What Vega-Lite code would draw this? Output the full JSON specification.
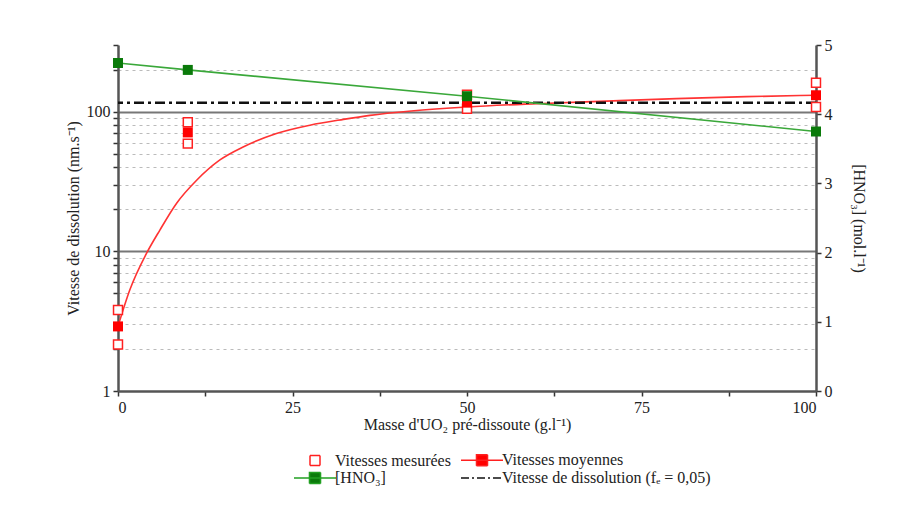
{
  "$schema": "https://vega.github.io/schema/vega-lite/v6.json",
  "autosize": "none",
  "width": 698,
  "height": 346,
  "padding": {"left": 118, "top": 45, "right": 81, "bottom": 122},
  "background": "white",
  "config": {
    "font": "Liberation Serif, Times New Roman, serif",
    "view": {"stroke": null},
    "axis": {
      "labelFont": "Liberation Serif, Times New Roman, serif",
      "titleFont": "Liberation Serif, Times New Roman, serif",
      "labelFontSize": 16,
      "titleFontSize": 16,
      "titleFontWeight": "normal",
      "labelColor": "#222",
      "titleColor": "#222",
      "domainColor": "#555",
      "domainWidth": 2.5,
      "tickColor": "#333",
      "tickWidth": 1.5,
      "tickSize": 5,
      "labelPadding": 3,
      "labelAngle": 0
    },
    "legend": {"labelFont": "Liberation Serif, Times New Roman, serif"}
  },
  "datasets": {
    "mesures": [
      {"x": 0, "v": 3.8, "serie": "Vitesses mesurées"},
      {"x": 0, "v": 2.15, "serie": "Vitesses mesurées"},
      {"x": 10, "v": 84, "serie": "Vitesses mesurées"},
      {"x": 10, "v": 59, "serie": "Vitesses mesurées"},
      {"x": 50, "v": 132, "serie": "Vitesses mesurées"},
      {"x": 50, "v": 105, "serie": "Vitesses mesurées"},
      {"x": 100, "v": 161, "serie": "Vitesses mesurées"},
      {"x": 100, "v": 108, "serie": "Vitesses mesurées"}
    ],
    "moyennes": [
      {"x": 0, "v": 2.9},
      {"x": 10, "v": 71},
      {"x": 50, "v": 116},
      {"x": 100, "v": 131}
    ],
    "courbe": [
      {"x": 0, "v": 2.9},
      {"x": 1.7, "v": 5.3},
      {"x": 4.1, "v": 9.7},
      {"x": 6.0, "v": 14.2},
      {"x": 8.4, "v": 22.1},
      {"x": 11.3, "v": 32.4},
      {"x": 14.6, "v": 45.1},
      {"x": 18.0, "v": 56.1},
      {"x": 22.7, "v": 69.8},
      {"x": 27.5, "v": 80},
      {"x": 32.3, "v": 88},
      {"x": 36.1, "v": 94},
      {"x": 42, "v": 101},
      {"x": 50, "v": 108},
      {"x": 60, "v": 114},
      {"x": 70, "v": 119},
      {"x": 80, "v": 124},
      {"x": 90, "v": 128},
      {"x": 100, "v": 131}
    ],
    "hno3": [
      {"x": 0, "c": 4.74},
      {"x": 10, "c": 4.64},
      {"x": 50, "c": 4.26},
      {"x": 100, "c": 3.75}
    ],
    "ref": [{"v": 116}]
  },
  "layer": [
    {
      "layer": [
        {
          "data": {"name": "courbe"},
          "mark": {"type": "line", "color": "#ff3333", "strokeWidth": 1.6, "interpolate": "monotone"},
          "encoding": {
            "x": {
              "field": "x", "type": "quantitative",
              "scale": {"domain": [0, 100], "nice": false},
              "axis": {
                "title": "Masse d'UO₂ pré-dissoute (g.l⁻¹)",
                "values": [0, 12.5, 25, 37.5, 50, 62.5, 75, 87.5, 100],
                "labelExpr": "datum.value % 25 == 0 ? datum.label : ''",
                "grid": false,
                "titlePadding": 1
              }
            },
            "y": {
              "field": "v", "type": "quantitative",
              "scale": {"type": "log", "domain": [1, 300], "nice": false},
              "axis": {
                "title": "Vitesse de dissolution (nm.s⁻¹)",
                "values": [1, 2, 3, 4, 5, 6, 7, 8, 9, 10, 20, 30, 40, 50, 60, 70, 80, 90, 100, 200, 300],
                "labelExpr": "datum.value == 1 || datum.value == 10 || datum.value == 100 ? datum.label : ''",
                "grid": true,
                "gridColor": {"condition": {"test": "datum.value == 10 || datum.value == 100", "value": "#777"}, "value": "#bbb"},
                "gridDash": {"condition": {"test": "datum.value == 10 || datum.value == 100", "value": []}, "value": [3, 4]},
                "gridWidth": {"condition": {"test": "datum.value == 10 || datum.value == 100", "value": 2}, "value": 1.2},
                "gridOpacity": {"condition": {"test": "datum.value == 300 || datum.value == 1", "value": 0}, "value": 1},
                "labelPadding": 3,
                "titlePadding": 5
              }
            }
          }
        },
        {
          "data": {"name": "ref"},
          "mark": {"type": "rule", "color": "#111", "strokeWidth": 2.5, "strokeDash": [10, 4, 3, 4]},
          "encoding": {"y": {"field": "v", "type": "quantitative"}}
        },
        {
          "data": {"name": "mesures"},
          "mark": {"type": "point", "size": 80, "opacity": 1, "fillOpacity": 1, "strokeOpacity": 1},
          "encoding": {
            "x": {"field": "x", "type": "quantitative"},
            "y": {"field": "v", "type": "quantitative"},
            "stroke": {
              "field": "serie", "type": "nominal",
              "scale": {
                "domain": ["Vitesses mesurées", "Vitesses moyennes", "[HNO₃]", "Vitesse de dissolution (fₑ = 0,05)"],
                "range": ["#ff2020", "#ff2020", "#22a022", "#111111"]
              },
              "legend": {
                "orient": "none",
                "legendX": 189,
                "legendY": 407,
                "columns": 2,
                "direction": "horizontal",
                "title": null,
                "labelFont": "Liberation Serif, Times New Roman, serif",
                "labelFontSize": 16,
                "labelColor": "#222",
                "labelLimit": 0,
                "symbolSize": 100,
                "labelOffset": 12,
                "rowPadding": 0,
                "columnPadding": 6,
                "symbolOpacity": 1
              }
            },
            "fill": {
              "field": "serie", "type": "nominal",
              "scale": {
                "domain": ["Vitesses mesurées", "Vitesses moyennes", "[HNO₃]", "Vitesse de dissolution (fₑ = 0,05)"],
                "range": ["#ffffff", "#ff0000", "#0a7a0a", "transparent"]
              }
            },
            "shape": {
              "field": "serie", "type": "nominal",
              "scale": {
                "domain": ["Vitesses mesurées", "Vitesses moyennes", "[HNO₃]", "Vitesse de dissolution (fₑ = 0,05)"],
                "range": ["M-1,-1H1V1H-1Z", "M-4.2,0H4.2M-1.1,-1.1H1.1V1.1H-1.1Z", "M-4.2,0H4.2M-1.1,-1.1H1.1V1.1H-1.1Z", "M-4.2,0H4.2"]
              }
            },
            "strokeDash": {
              "field": "serie", "type": "nominal",
              "scale": {
                "domain": ["Vitesses mesurées", "Vitesses moyennes", "[HNO₃]", "Vitesse de dissolution (fₑ = 0,05)"],
                "range": [[1, 0], [1, 0], [1, 0], [8, 3, 2, 3]]
              }
            },
            "strokeWidth": {
              "field": "serie", "type": "nominal",
              "scale": {
                "domain": ["Vitesses mesurées", "Vitesses moyennes", "[HNO₃]", "Vitesse de dissolution (fₑ = 0,05)"],
                "range": [1.5, 1.6, 1.6, 2.6]
              }
            }
          }
        },
        {
          "data": {"name": "moyennes"},
          "mark": {"type": "point", "shape": "square", "filled": true, "size": 100, "color": "#ff0000", "opacity": 1},
          "encoding": {
            "x": {"field": "x", "type": "quantitative"},
            "y": {"field": "v", "type": "quantitative"}
          }
        }
      ]
    },
    {
      "data": {"name": "hno3"},
      "layer": [
        {
          "mark": {"type": "line", "color": "#3aa83a", "strokeWidth": 1.6},
          "encoding": {
            "x": {"field": "x", "type": "quantitative"},
            "y": {
              "field": "c", "type": "quantitative",
              "scale": {"domain": [0, 5], "nice": false},
              "axis": {
                "orient": "right",
                "title": "[HNO₃] (mol.l⁻¹)",
                "values": [0, 0.25, 0.5, 0.75, 1, 1.25, 1.5, 1.75, 2, 2.25, 2.5, 2.75, 3, 3.25, 3.5, 3.75, 4, 4.25, 4.5, 4.75, 5],
                "format": "d",
                "labelExpr": "datum.value % 1 == 0 ? datum.label : ''",
                "grid": false,
                "titlePadding": 18
              }
            }
          }
        },
        {
          "mark": {"type": "point", "shape": "square", "filled": true, "size": 100, "color": "#0a7a0a", "opacity": 1},
          "encoding": {
            "x": {"field": "x", "type": "quantitative"},
            "y": {"field": "c", "type": "quantitative"}
          }
        }
      ]
    }
  ],
  "resolve": {"scale": {"y": "independent"}}
}
